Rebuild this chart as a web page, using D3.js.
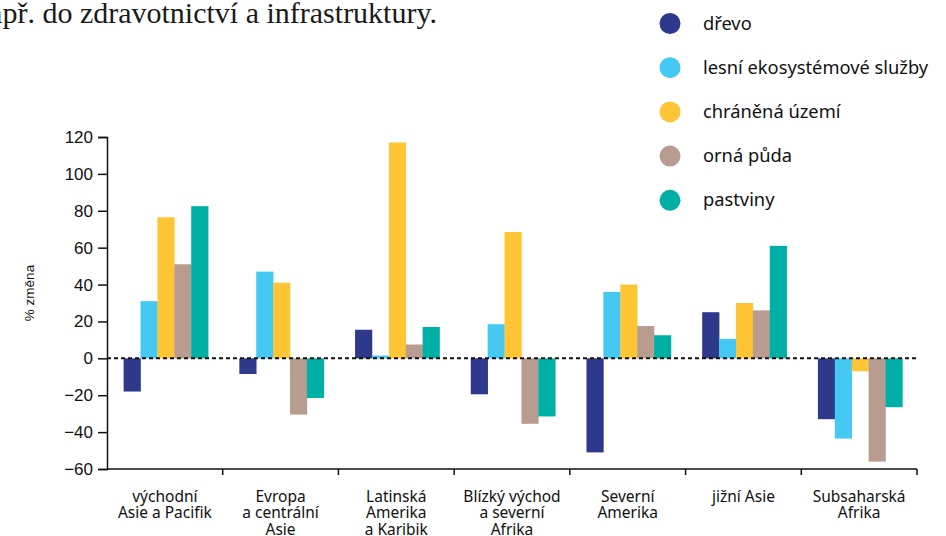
<!DOCTYPE html>
<html>
<head>
<meta charset="utf-8">
<script src="https://cdn.jsdelivr.net/npm/d3@7"></script>
<style>
  html, body { margin: 0; padding: 0; background: #fff; }
  svg { display: block; }
</style>
</head>
<body>
<div id="root"></div>
<script>
// data
const regions = [
  ["východní", "Asie a Pacifik"],
  ["Evropa", "a centrální", "Asie"],
  ["Latinská", "Amerika", "a Karibik"],
  ["Blízký východ", "a severní", "Afrika"],
  ["Severní", "Amerika"],
  ["jižní Asie"],
  ["Subsaharská", "Afrika"]
]
const seriesNames = ["dřevo", "lesní ekosystémové služby", "chráněná území", "orná půda", "pastviny"]
const seriesColors = ["#2e398b", "#45c8f1", "#ffc535", "#b99c90", "#00b0a7"]
const drevo     = [-18, -8.5, 15.5, -19.5, -51, 25, -33]
const lesni     = [31, 47, 1.5, 18.5, 36, 10.5, -43.5]
const chranena  = [76.5, 41, 117, 68.5, 40, 30, -7]
const orna      = [51, -30.5, 7.5, -35.5, 17.5, 26, -56]
const pastviny  = [82.5, -21.5, 17, -31.5, 12.5, 61, -26.5]
const yTicks = [-60, -40, -20, 0, 20, 40, 60, 80, 100, 120]

const seriesValues = [drevo, lesni, chranena, orna, pastviny]

const W = 946, H = 536
const plot = { left: 107, right: 917, top: 137, bottom: 469 }
const sans = "'Noto Sans', 'Lato', sans-serif"

const svg = d3.select("#root").append("svg")
  .attr("width", W).attr("height", H)

// top sentence (cut off on the left like in the source)
svg.append("text")
  .attr("x", 437).attr("y", 23)
  .attr("text-anchor", "end")
  .style("font-family", "'Liberation Serif', 'DejaVu Serif', serif")
  .style("font-size", "30px")
  .attr("fill", "#1a1a1a")
  .text("např. do zdravotnictví a infrastruktury.")

// scales
const x0 = d3.scaleBand()
  .domain(d3.range(regions.length))
  .range([plot.left, plot.right])
  .paddingInner(0.27)
  .paddingOuter(0.135)
const x1 = d3.scaleBand()
  .domain(d3.range(seriesNames.length))
  .range([0, x0.bandwidth()])
const y = d3.scaleLinear()
  .domain([-60, 120])
  .range([plot.bottom, plot.top])

// bars
const groups = svg.append("g").selectAll("g")
  .data(regions)
  .join("g")
  .attr("transform", (d, i) => `translate(${x0(i) + 1},0)`)

groups.selectAll("rect")
  .data((d, i) => seriesValues.map((vals, s) => ({ s, v: vals[i] })))
  .join("rect")
  .attr("x", d => x1(d.s))
  .attr("width", x1.bandwidth() + 0.3)
  .attr("y", d => y(Math.max(0, d.v)))
  .attr("height", d => Math.abs(y(d.v) - y(0)))
  .attr("fill", d => seriesColors[d.s])

// dashed zero line
svg.append("line")
  .attr("x1", plot.left).attr("x2", plot.right)
  .attr("y1", y(0)).attr("y2", y(0))
  .attr("stroke", "#111")
  .attr("stroke-width", 2)
  .attr("stroke-dasharray", "4,3")

// y axis
const yAxis = svg.append("g")
  .attr("transform", `translate(${plot.left},0)`)
  .call(d3.axisLeft(y).tickValues(yTicks).tickSize(9).tickPadding(5)
    .tickFormat(d => d < 0 ? "\u2212" + Math.abs(d) : d))
yAxis.select(".domain").attr("stroke", "#111").attr("stroke-width", 1.5)
yAxis.selectAll(".tick line").attr("stroke", "#111").attr("stroke-width", 1.5)
yAxis.selectAll(".tick text")
  .style("font-family", "'Liberation Sans', Arial, sans-serif")
  .style("font-size", "17px")
  .attr("fill", "#111")

svg.append("text")
  .attr("transform", "translate(34,293) rotate(-90)")
  .attr("text-anchor", "middle")
  .style("font-family", "'Liberation Sans', Arial, sans-serif")
  .style("font-size", "13.5px")
  .attr("fill", "#111")
  .text("% změna")

// x axis
const xEdges = d3.range(regions.length + 1).map(i => plot.left + i * x0.step())
const xAxisG = svg.append("g")
xAxisG.append("line")
  .attr("x1", plot.left).attr("x2", plot.right)
  .attr("y1", plot.bottom).attr("y2", plot.bottom)
  .attr("stroke", "#111").attr("stroke-width", 1.5)
xAxisG.selectAll("line.tk")
  .data(xEdges.slice(1))
  .join("line")
  .attr("class", "tk")
  .attr("x1", d => d).attr("x2", d => d)
  .attr("y1", plot.bottom).attr("y2", plot.bottom + 6)
  .attr("stroke", "#111").attr("stroke-width", 1.5)

const xLabels = xAxisG.selectAll("text")
  .data(regions)
  .join("text")
  .attr("x", (d, i) => x0(i) + x0.bandwidth() / 2)
  .attr("y", plot.bottom + 33)
  .attr("text-anchor", "middle")
  .style("font-family", sans)
  .style("font-size", "15.5px")
  .attr("fill", "#111")
xLabels.selectAll("tspan")
  .data(d => d)
  .join("tspan")
  .attr("x", function () { return d3.select(this.parentNode).attr("x") })
  .attr("dy", (d, i) => i === 0 ? 0 : 16.3)
  .text(d => d)

// legend
const legend = svg.append("g").selectAll("g")
  .data(seriesNames)
  .join("g")
  .attr("transform", (d, i) => `translate(670,${23.5 + i * 44.2})`)
legend.append("circle")
  .attr("r", 10.5)
  .attr("fill", (d, i) => seriesColors[i])
legend.append("text")
  .attr("x", 33).attr("y", 6)
  .style("font-family", sans)
  .style("font-size", "18.3px")
  .attr("fill", "#111")
  .text(d => d)
</script>
</body>
</html>
